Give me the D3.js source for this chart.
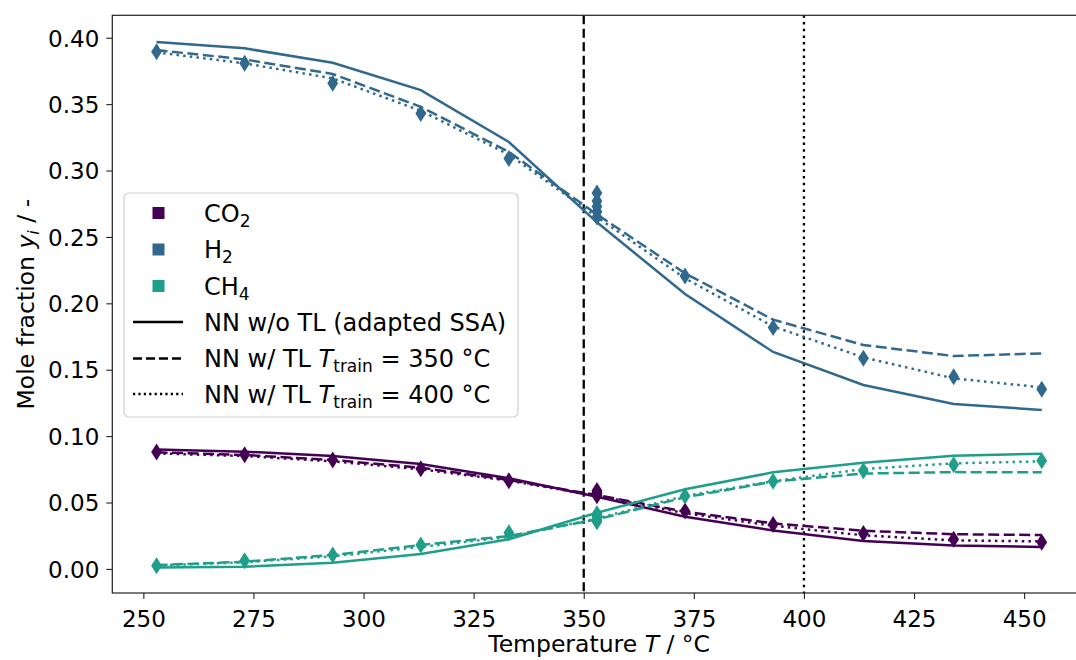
<!DOCTYPE html>
<html><head><meta charset="utf-8">
<script src="https://cdn.jsdelivr.net/npm/d3@7"></script>
<style>
html,body{margin:0;padding:0;background:#fff;}
svg text{font-family:"DejaVu Sans",sans-serif;fill:#000;}
</style></head>
<body>
<svg id="c" width="1076" height="660"></svg>
<script>
// ---------------- data ----------------
const temps = [253, 273, 293, 313, 333, 353, 373, 393, 413.5, 434, 454];
const co2_noTL  = [0.0900, 0.0883, 0.0850, 0.0790, 0.0682, 0.0544, 0.0393, 0.0290, 0.0210, 0.0177, 0.0165];
const co2_TL350 = [0.0878, 0.0858, 0.0820, 0.0762, 0.0670, 0.0556, 0.0431, 0.0343, 0.0287, 0.0261, 0.0255];
const co2_TL400 = [0.0870, 0.0850, 0.0810, 0.0750, 0.0665, 0.0550, 0.0420, 0.0325, 0.0253, 0.0215, 0.0207];
const h2_noTL   = [0.3968, 0.3920, 0.3812, 0.3606, 0.3215, 0.2610, 0.2070, 0.1634, 0.1385, 0.1242, 0.1197];
const h2_TL350  = [0.3907, 0.3837, 0.3727, 0.3480, 0.3140, 0.2670, 0.2226, 0.1877, 0.1686, 0.1603, 0.1623];
const h2_TL400  = [0.3890, 0.3807, 0.3694, 0.3450, 0.3120, 0.2650, 0.2188, 0.1826, 0.1593, 0.1435, 0.1367];
const ch4_noTL  = [0.0010, 0.0017, 0.0047, 0.0112, 0.0223, 0.0423, 0.0600, 0.0727, 0.0800, 0.0852, 0.0867];
const ch4_TL350 = [0.0029, 0.0054, 0.0105, 0.0180, 0.0248, 0.0373, 0.0539, 0.0657, 0.0718, 0.0729, 0.0727];
const ch4_TL400 = [0.0025, 0.0050, 0.0095, 0.0165, 0.0240, 0.0380, 0.0550, 0.0660, 0.0752, 0.0795, 0.0810];

// experimental points (repeated measurements at 353 °C)
const expT    = [253, 273, 293, 313, 333, 353, 353, 353, 353, 353, 373, 393, 413.5, 434, 454];
const co2_exp = [0.0880, 0.0860, 0.0820, 0.0755, 0.0664, 0.0550, 0.0560, 0.0570, 0.0580, 0.0590, 0.0436, 0.0335, 0.0266, 0.0223, 0.0200];
const h2_exp  = [0.3895, 0.3807, 0.3657, 0.3430, 0.3090, 0.2650, 0.2690, 0.2730, 0.2770, 0.2830, 0.2205, 0.1818, 0.1586, 0.1447, 0.1352];
const ch4_exp = [0.0024, 0.0062, 0.0105, 0.0180, 0.0273, 0.0355, 0.0370, 0.0385, 0.0400, 0.0415, 0.0549, 0.0660, 0.0740, 0.0785, 0.0815];

const trainTemps = [350, 400];
const xTicks = [250, 275, 300, 325, 350, 375, 400, 425, 450];
const yTicks = [0.00, 0.05, 0.10, 0.15, 0.20, 0.25, 0.30, 0.35, 0.40];
const speciesNames = ["CO2", "H2", "CH4"];
const speciesColors = ["#440154", "#31688e", "#1f9e89"];

// ---------------- layout ----------------
const svg = d3.select("#c");
const L = 112.3, R = 1086, T = 15.3, B = 593;
const x = d3.scaleLinear().domain([242.95, 464.05]).range([L, R]);
const y = d3.scaleLinear().domain([-0.01815, 0.4169]).range([B, T]);

svg.append("defs").append("clipPath").attr("id","clip")
  .append("rect").attr("x",L).attr("y",T).attr("width",R-L).attr("height",B-T);

const plot = svg.append("g").attr("clip-path","url(#clip)");

const DASH = "11,4.5", DOT = "2.5,4.2";

// vertical training-temperature lines
plot.append("line").attr("x1",x(trainTemps[0])).attr("x2",x(trainTemps[0])).attr("y1",T).attr("y2",B)
  .attr("stroke","#000").attr("stroke-width",2.3).attr("stroke-dasharray","9,4.5");
plot.append("line").attr("x1",x(trainTemps[1])).attr("x2",x(trainTemps[1])).attr("y1",T).attr("y2",B)
  .attr("stroke","#000").attr("stroke-width",2.3).attr("stroke-dasharray",DOT);

const line = d3.line().x((d,i)=>x(temps[i])).y(d=>y(d));
const series = [
  {c:0, vals:co2_noTL, dash:null}, {c:0, vals:co2_TL350, dash:DASH}, {c:0, vals:co2_TL400, dash:DOT},
  {c:1, vals:h2_noTL, dash:null},  {c:1, vals:h2_TL350, dash:DASH},  {c:1, vals:h2_TL400, dash:DOT},
  {c:2, vals:ch4_noTL, dash:null}, {c:2, vals:ch4_TL350, dash:DASH}, {c:2, vals:ch4_TL400, dash:DOT}
];
series.forEach(s=>{
  plot.append("path").attr("d", line(s.vals)).attr("fill","none")
    .attr("stroke", speciesColors[s.c]).attr("stroke-width",2.5)
    .attr("stroke-dasharray", s.dash);
});

// thin diamond markers
const dia = (cx,cy)=>{const w=5.4,h=8.5;return `M${cx},${cy-h}L${cx+w},${cy}L${cx},${cy+h}L${cx-w},${cy}Z`;};
[co2_exp, h2_exp, ch4_exp].forEach((vals,k)=>{
  plot.selectAll(null).data(vals).enter().append("path")
    .attr("d",(d,i)=>dia(x(expT[i]), y(d)))
    .attr("fill", speciesColors[k]);
});

// ---------------- axes ----------------
const fmtY = d3.format(".2f");
const xAxis = svg.append("g").attr("transform",`translate(0,${B})`)
  .call(d3.axisBottom(x).tickValues(xTicks).tickSize(6).tickPadding(6).tickFormat(d3.format("d")));
const yAxis = svg.append("g").attr("transform",`translate(${L},0)`)
  .call(d3.axisLeft(y).tickValues(yTicks).tickSize(6).tickPadding(7).tickFormat(fmtY));
[xAxis,yAxis].forEach(a=>{
  a.select(".domain").remove();
  a.selectAll(".tick line").attr("stroke","#222").attr("stroke-width",1.1);
  a.selectAll(".tick text").attr("font-size",23).attr("font-family","DejaVu Sans").attr("fill","#000");
});
xAxis.selectAll(".tick text").attr("dy","0.95em");
yAxis.selectAll(".tick text").attr("dy","0.36em");

// spines
svg.append("rect").attr("x",L).attr("y",T).attr("width",R-L).attr("height",B-T)
  .attr("fill","none").attr("stroke","#222").attr("stroke-width",1.2);

// axis labels
const xl = svg.append("text").attr("x",(L+R)/2).attr("y",652).attr("text-anchor","middle").attr("font-size",23.5);
xl.append("tspan").text("Temperature ");
xl.append("tspan").attr("font-style","italic").text("T");
xl.append("tspan").text(" / °C");

const yl = svg.append("text").attr("transform",`translate(34,${(T+B)/2}) rotate(-90)`)
  .attr("text-anchor","middle").attr("font-size",23.5);
yl.append("tspan").text("Mole fraction ");
yl.append("tspan").attr("font-style","italic").text("y");
yl.append("tspan").attr("font-style","italic").attr("font-size",16).attr("dy",5).text("i");
yl.append("tspan").attr("dy",-5).text(" / -");

// ---------------- legend ----------------
const lg = svg.append("g");
lg.append("rect").attr("x",124).attr("y",193).attr("width",394).attr("height",224).attr("rx",5)
  .attr("fill","#fff").attr("fill-opacity",0.8).attr("stroke","#d0d0d0").attr("stroke-width",1.2);
const rowY = [213, 249.5, 286, 322, 358.5, 394];
const tx = 204, fs = 24;
const subs = [["CO","2"],["H","2"],["CH","4"]];
subs.forEach((s,i)=>{
  lg.append("rect").attr("x",152.5).attr("y",rowY[i]-6).attr("width",12).attr("height",12).attr("fill",speciesColors[i]);
  const t = lg.append("text").attr("x",tx).attr("y",rowY[i]+8.7).attr("font-size",fs);
  t.append("tspan").text(s[0]);
  t.append("tspan").attr("font-size",17).attr("dy",5).text(s[1]);
});
const dashes = [null, "9,4", "2.2,3.2"];
dashes.forEach((d,j)=>{
  lg.append("line").attr("x1",133).attr("x2",183).attr("y1",rowY[3+j]).attr("y2",rowY[3+j])
    .attr("stroke","#000").attr("stroke-width",2.3).attr("stroke-dasharray",d);
});
lg.append("text").attr("x",tx).attr("y",rowY[3]+8.7).attr("font-size",fs).text("NN w/o TL (adapted SSA)");
trainTemps.forEach((tt,j)=>{
  const t = lg.append("text").attr("x",tx).attr("y",rowY[4+j]+8.7).attr("font-size",fs);
  t.append("tspan").text("NN w/ TL ");
  t.append("tspan").attr("font-style","italic").text("T");
  t.append("tspan").attr("font-size",17).attr("dy",5).text("train");
  t.append("tspan").attr("dy",-5).text(" = " + tt + " °C");
});
</script>
</body></html>
